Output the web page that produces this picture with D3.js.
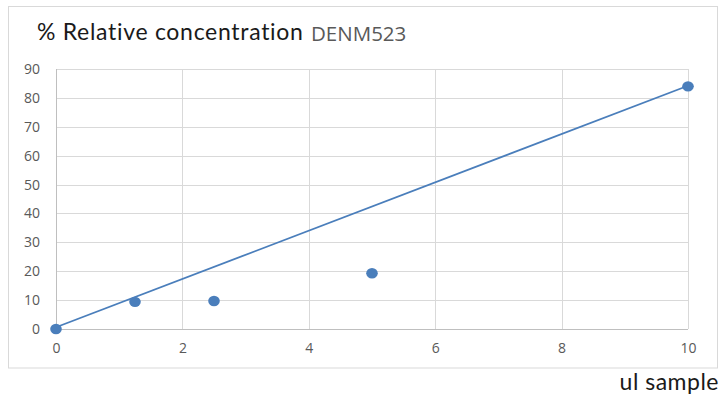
<!DOCTYPE html>
<html>
<head>
<meta charset="utf-8">
<script src="https://cdn.jsdelivr.net/npm/d3@7"></script>
<style>
  html, body { margin: 0; padding: 0; background: #fff; }
  svg { display: block; }
</style>
</head>
<body>
<svg id="chart" width="721" height="395"></svg>
<script>
// Measured points: microlitres of sample vs % relative concentration
const sampleUl = [0, 1.25, 2.5, 5, 10];
const relConc = [0, 9.4, 9.7, 19.3, 84];

// Straight fit line drawn across the full x range
const fitX = [0, 10];
const fitY = [0.6, 84.2];

const xTicks = [0, 2, 4, 6, 8, 10];
const yTicks = [0, 10, 20, 30, 40, 50, 60, 70, 80, 90];

const svg = d3.select("#chart");
const plot = { left: 56, right: 688, top: 69, bottom: 329 };

const x = d3.scaleLinear().domain([0, 10]).range([plot.left, plot.right]);
const y = d3.scaleLinear().domain([0, 90]).range([plot.bottom, plot.top]);

const blue = "#4a7ebb";
const grid = "#d9d9d9";
const labelGray = "#595959";

// outer chart frame
svg.append("rect")
  .attr("x", 8.5).attr("y", 6.5)
  .attr("width", 709).attr("height", 361.5)
  .attr("fill", "#fff")
  .attr("stroke", grid).attr("stroke-width", 1);

// title
svg.append("text")
  .attr("x", 37).attr("y", 40)
  .attr("fill", "#1a1a1a")
  .style("font-family", "Lato, sans-serif")
  .style("font-size", "23px")
  .style("letter-spacing", "0.7px")
  .text("% Relative concentration");
svg.append("text")
  .attr("x", 311).attr("y", 41)
  .attr("fill", labelGray)
  .style("font-family", "'Open Sans', sans-serif")
  .style("font-size", "20.5px")
  .text("DENM523");

// gridlines
const gx = svg.append("g")
  .attr("transform", `translate(0,${plot.bottom})`)
  .call(d3.axisBottom(x).tickValues(xTicks).tickSize(-(plot.bottom - plot.top)).tickFormat(""));
gx.select(".domain").remove();
gx.selectAll("line").attr("stroke", grid).attr("shape-rendering", "crispEdges");

const gy = svg.append("g")
  .attr("transform", `translate(${plot.left},0)`)
  .call(d3.axisLeft(y).tickValues(yTicks).tickSize(-(plot.right - plot.left)).tickFormat(""));
gy.select(".domain").remove();
gy.selectAll("line").attr("stroke", grid).attr("shape-rendering", "crispEdges");

// axis lines
svg.append("line")
  .attr("x1", plot.left).attr("x2", plot.left)
  .attr("y1", plot.top).attr("y2", plot.bottom)
  .attr("stroke", "#bfbfbf").attr("shape-rendering", "crispEdges");
svg.append("line")
  .attr("x1", plot.left).attr("x2", plot.right)
  .attr("y1", plot.bottom).attr("y2", plot.bottom)
  .attr("stroke", "#bfbfbf").attr("shape-rendering", "crispEdges");

// tick labels
const xAxis = svg.append("g")
  .attr("transform", `translate(0,${plot.bottom})`)
  .call(d3.axisBottom(x).tickValues(xTicks).tickSize(0).tickPadding(14).tickFormat(d3.format("d")));
xAxis.select(".domain").remove();
xAxis.selectAll("text")
  .attr("fill", labelGray)
  .style("font-family", "'Open Sans', sans-serif")
  .style("font-size", "14px");

const yAxis = svg.append("g")
  .attr("transform", `translate(${plot.left},0)`)
  .call(d3.axisLeft(y).tickValues(yTicks).tickSize(0).tickPadding(16).tickFormat(d3.format("d")));
yAxis.select(".domain").remove();
yAxis.selectAll("text")
  .attr("fill", labelGray)
  .style("font-family", "'Open Sans', sans-serif")
  .style("font-size", "14px");

// fit line
const line = d3.line().x(d => x(d[0])).y(d => y(d[1]));
svg.append("path")
  .datum(d3.zip(fitX, fitY))
  .attr("d", line)
  .attr("fill", "none")
  .attr("stroke", blue)
  .attr("stroke-width", 1.8);

// data markers
svg.append("g").selectAll("ellipse")
  .data(d3.zip(sampleUl, relConc))
  .join("ellipse")
  .attr("cx", d => x(d[0]))
  .attr("cy", d => y(d[1]))
  .attr("rx", 5.8).attr("ry", 5.2)
  .attr("fill", blue);

// x axis title
svg.append("text")
  .attr("x", 719).attr("y", 390)
  .attr("text-anchor", "end")
  .attr("fill", "#1a1a1a")
  .style("font-family", "Lato, sans-serif")
  .style("font-size", "23px")
  .style("letter-spacing", "0.5px")
  .text("ul sample");
</script>
</body>
</html>
